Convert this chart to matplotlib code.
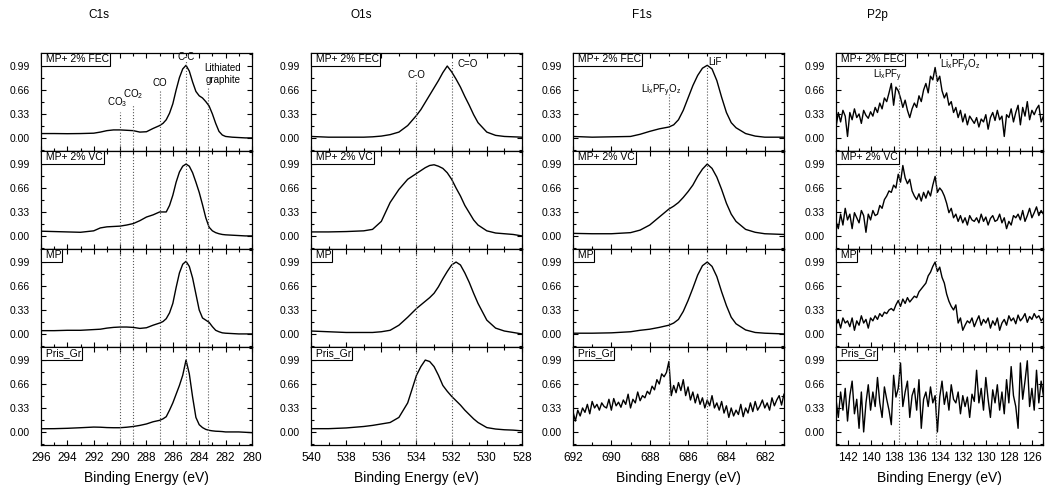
import matplotlib
matplotlib.use('Agg')
import matplotlib.pyplot as plt
from matplotlib.ticker import MultipleLocator
import numpy as np

plt.rcParams['font.family'] = 'Liberation Sans'
plt.rcParams['mathtext.default'] = 'regular'

samples = ['MP+ 2% FEC', 'MP+ 2% VC', 'MP', 'Pris_Gr']
titles = ['C1s', 'O1s', 'F1s', 'P2p']

# ---- C1s (normalised intensity) ----
c1s_E = [296, 295, 294, 293, 292, 291.5, 291, 290.5, 290, 289.5, 289, 288.5, 288, 287.5, 287,
         286.75, 286.5, 286.25, 286, 285.75, 285.5, 285.25, 285, 284.75, 284.5, 284.25, 284,
         283.75, 283.5, 283.25, 283, 282.75, 282.5, 282.25, 282, 281.5, 281, 280.5, 280]
c1s_fec = [0.06, 0.06, 0.058, 0.06, 0.065, 0.08, 0.10, 0.11, 0.11, 0.105, 0.10, 0.08, 0.085, 0.13, 0.17,
           0.20, 0.25, 0.34, 0.47, 0.66, 0.83, 0.95, 1.0, 0.92, 0.77, 0.64, 0.58,
           0.55, 0.50, 0.44, 0.33, 0.20, 0.09, 0.04, 0.02, 0.01, 0.005, 0.0, 0.0]
c1s_vc = [0.065, 0.06, 0.055, 0.05, 0.07, 0.11, 0.125, 0.13, 0.135, 0.15, 0.17, 0.21, 0.26, 0.29, 0.33,
          0.33, 0.33, 0.42, 0.56, 0.74, 0.88, 0.96, 0.99, 0.96, 0.87, 0.74, 0.60,
          0.43, 0.25, 0.12, 0.07, 0.045, 0.03, 0.02, 0.015, 0.01, 0.005, 0.0, 0.0]
c1s_mp = [0.045, 0.045, 0.05, 0.05, 0.06, 0.065, 0.08, 0.09, 0.095, 0.095, 0.09, 0.076, 0.085, 0.12, 0.15,
          0.17, 0.21, 0.29, 0.42, 0.64, 0.84, 0.96, 1.0, 0.93, 0.77, 0.55, 0.33,
          0.22, 0.19, 0.16, 0.10, 0.05, 0.03, 0.015, 0.01, 0.005, 0.0, 0.0, 0.0]
c1s_pris = [0.044, 0.045, 0.05, 0.058, 0.067, 0.065, 0.06, 0.058, 0.058, 0.065, 0.075, 0.09, 0.11, 0.14, 0.16,
            0.18, 0.21, 0.30, 0.40, 0.52, 0.64, 0.78, 0.99, 0.80, 0.48, 0.20, 0.10,
            0.06, 0.035, 0.022, 0.015, 0.01, 0.008, 0.005, 0.0, 0.0, 0.0, -0.005, -0.01]

# ---- O1s ----
o1s_E = [540, 539, 538, 537, 536.5, 536, 535.5, 535, 534.5, 534, 533.75, 533.5, 533.25, 533,
         532.75, 532.5, 532.25, 532, 531.75, 531.5, 531.25, 531, 530.75, 530.5, 530, 529.5,
         529, 528.5, 528]
o1s_fec = [0.02, 0.01, 0.01, 0.01, 0.015, 0.025, 0.045, 0.08, 0.17, 0.31, 0.39, 0.49, 0.59, 0.69,
           0.79, 0.90, 0.99, 0.91, 0.81, 0.70, 0.57, 0.45, 0.32, 0.21, 0.08, 0.035,
           0.02, 0.015, 0.01]
o1s_vc = [0.055, 0.055, 0.06, 0.07, 0.09, 0.20, 0.46, 0.64, 0.78, 0.86, 0.90, 0.94, 0.97, 0.98,
          0.96, 0.93, 0.87, 0.78, 0.66, 0.55, 0.42, 0.32, 0.22, 0.15, 0.07, 0.04,
          0.03, 0.02, 0.0]
o1s_mp = [0.04, 0.03, 0.02, 0.02, 0.02, 0.03, 0.05, 0.12, 0.23, 0.35, 0.40, 0.45, 0.50, 0.56,
          0.65, 0.76, 0.86, 0.95, 0.99, 0.95, 0.84, 0.71, 0.56, 0.42, 0.19, 0.08,
          0.04, 0.02, 0.0]
o1s_pris = [0.045, 0.045, 0.055, 0.075, 0.09, 0.11, 0.13, 0.20, 0.40, 0.78, 0.90, 0.99, 0.97, 0.90,
            0.78, 0.64, 0.56, 0.49, 0.43, 0.37, 0.30, 0.24, 0.18, 0.13, 0.06, 0.04,
            0.03, 0.025, 0.015]

# ---- F1s ----
f1s_E = [692, 691, 690, 689, 688.5, 688, 687.5, 687, 686.75, 686.5, 686.25, 686, 685.75,
         685.5, 685.25, 685, 684.75, 684.5, 684.25, 684, 683.75, 683.5, 683, 682.5, 682, 681]
f1s_fec = [0.02, 0.01, 0.015, 0.02, 0.05, 0.09, 0.125, 0.15, 0.18, 0.25, 0.38, 0.55, 0.72,
           0.86, 0.96, 1.0, 0.95, 0.79, 0.56, 0.35, 0.21, 0.14, 0.06, 0.025, 0.01, 0.01]
f1s_vc = [0.035, 0.03, 0.03, 0.045, 0.08, 0.15, 0.26, 0.37, 0.41, 0.46, 0.53, 0.61, 0.70,
          0.82, 0.92, 0.99, 0.93, 0.81, 0.64, 0.45, 0.30, 0.20, 0.09, 0.05, 0.03, 0.02]
f1s_mp = [0.01, 0.01, 0.015, 0.03, 0.05, 0.065, 0.09, 0.12, 0.15, 0.20, 0.31, 0.46, 0.63,
          0.81, 0.94, 0.99, 0.93, 0.79, 0.58, 0.39, 0.23, 0.14, 0.055, 0.02, 0.01, 0.0]
# noisy one, 0.125 eV steps from 692 down to 681
f1s_pris = [0.28, 0.15, 0.30, 0.22, 0.33, 0.27, 0.38, 0.25, 0.42, 0.33, 0.38, 0.30, 0.40, 0.35,
            0.33, 0.45, 0.30, 0.46, 0.36, 0.41, 0.34, 0.44, 0.38, 0.52, 0.33, 0.45, 0.40, 0.55,
            0.43, 0.50, 0.47, 0.56, 0.52, 0.63, 0.58, 0.72, 0.66, 0.80, 0.76, 0.82, 0.97, 0.50,
            0.64, 0.54, 0.68, 0.57, 0.72, 0.50, 0.62, 0.44, 0.55, 0.40, 0.52, 0.38, 0.47, 0.33,
            0.44, 0.36, 0.50, 0.33, 0.40, 0.30, 0.42, 0.26, 0.36, 0.20, 0.33, 0.22, 0.30, 0.24,
            0.38, 0.21, 0.33, 0.26, 0.40, 0.28, 0.42, 0.30, 0.36, 0.44, 0.33, 0.40, 0.30, 0.47,
            0.36, 0.44, 0.50, 0.37, 0.52]

# ---- P2p, 0.2 eV steps from 143 down to 125 ----
p2p_fec = [0.15, 0.35, 0.22, 0.38, 0.30, 0.02, 0.35, 0.25, 0.40, 0.28, 0.33, 0.20, 0.38, 0.31, 0.27, 0.36,
           0.30, 0.42, 0.35, 0.48, 0.40, 0.55, 0.50, 0.62, 0.75,
           0.45, 0.70, 0.65, 0.55, 0.42, 0.52, 0.38, 0.28, 0.40,
           0.48, 0.42, 0.58, 0.50, 0.66, 0.75, 0.62, 0.85, 0.80,
           0.97, 0.78, 0.85, 0.65, 0.55, 0.62, 0.45, 0.50, 0.35,
           0.42, 0.28, 0.38, 0.22, 0.33, 0.18, 0.30, 0.25, 0.20,
           0.28, 0.15, 0.26, 0.22, 0.32, 0.12, 0.28, 0.35, 0.24,
           0.38, 0.25, 0.30, 0.02, 0.32, 0.28, 0.40, 0.22, 0.35,
           0.45, 0.18, 0.42, 0.30, 0.50, 0.25, 0.38, 0.32, 0.40,
           0.45, 0.22, 0.30]
p2p_vc = [0.20, 0.10, 0.30, 0.15, 0.38, 0.22, 0.30, 0.10, 0.32, 0.25, 0.18, 0.35, 0.28, 0.05, 0.30, 0.22,
          0.35, 0.28, 0.30, 0.42, 0.38, 0.50, 0.55, 0.62, 0.60,
          0.70, 0.66, 0.85, 0.74, 0.97, 0.80, 0.72, 0.78, 0.62,
          0.55, 0.50, 0.58, 0.48, 0.60, 0.52, 0.62, 0.55, 0.70,
          0.82, 0.60, 0.66, 0.62, 0.55, 0.45, 0.32, 0.38, 0.25,
          0.30, 0.20, 0.28, 0.18, 0.25, 0.15, 0.28, 0.22, 0.20,
          0.25, 0.18, 0.30, 0.20, 0.26, 0.15, 0.24, 0.28, 0.20,
          0.22, 0.30, 0.18, 0.25, 0.10, 0.20, 0.15, 0.28, 0.25,
          0.30, 0.22, 0.35, 0.20, 0.28, 0.38, 0.25, 0.32, 0.40,
          0.28, 0.35, 0.30]
p2p_mp = [0.12, 0.20, 0.08, 0.22, 0.15, 0.18, 0.10, 0.22, 0.05, 0.18, 0.12, 0.25, 0.15, 0.20, 0.08, 0.22,
          0.18, 0.25, 0.20, 0.28, 0.24, 0.30, 0.28, 0.33, 0.35,
          0.32, 0.40, 0.46, 0.38, 0.48, 0.42, 0.50, 0.44, 0.48,
          0.52, 0.50, 0.58, 0.62, 0.66, 0.70, 0.80, 0.85, 0.93,
          0.99, 0.86, 0.92, 0.78, 0.70, 0.55, 0.45, 0.38, 0.33,
          0.40, 0.15, 0.22, 0.05, 0.12, 0.18, 0.15, 0.22, 0.10,
          0.18, 0.25, 0.12, 0.20, 0.15, 0.22, 0.08, 0.18, 0.12,
          0.22, 0.05, 0.15, 0.20, 0.12, 0.25, 0.18, 0.22, 0.14,
          0.26, 0.18, 0.22, 0.28, 0.16, 0.24, 0.20, 0.28, 0.22,
          0.25, 0.18, 0.22]
p2p_pris = [0.45, 0.20, 0.55, 0.30, 0.60, 0.15, 0.50, 0.70, 0.25, 0.45, 0.05, 0.55, 0.00, 0.40, 0.65, 0.30,
            0.55, 0.35, 0.75, 0.40, 0.20, 0.62, 0.45, 0.30, 0.10,
            0.78, 0.48, 0.60, 0.95, 0.35, 0.55, 0.70, 0.20, 0.50,
            0.60, 0.30, 0.72, 0.05, 0.45, 0.55, 0.35, 0.62, 0.40,
            0.50, 0.00, 0.48, 0.70, 0.38, 0.55, 0.30, 0.65, 0.45,
            0.40, 0.55, 0.25, 0.50, 0.35, 0.48, 0.20, 0.52, 0.42,
            0.85, 0.40, 0.60, 0.30, 0.75, 0.45, 0.20, 0.58, 0.40,
            0.65, 0.30, 0.55, 0.25, 0.72, 0.40, 0.90, 0.50, 0.35,
            0.05, 0.95, 0.45, 0.70, 0.98, 0.35, 0.60, 0.30, 0.85,
            0.40, 0.70, 0.50]

f1s_pris_E = np.linspace(692, 681, len(f1s_pris))
p2p_E = np.linspace(143, 125, len(p2p_fec))

cols = [
    dict(xlim=(296, 280), xt=np.arange(296, 279, -2),
         E=[c1s_E] * 4, I=[c1s_fec, c1s_vc, c1s_mp, c1s_pris],
         lines=[(290, 0.35), (289, 0.46), (287, 0.66), (285, 1.07), (283.3, 0.70)],
         notes=[('CO$_3$', 290.2, 0.49), ('CO$_2$', 289.0, 0.61), ('CO', 287.0, 0.76),
                ('C-C', 285.0, 1.11), ('Lithiated\ngraphite', 282.2, 0.88)]),
    dict(xlim=(540, 528), xt=np.arange(540, 527, -2),
         E=[o1s_E] * 4, I=[o1s_fec, o1s_vc, o1s_mp, o1s_pris],
         lines=[(534, 0.80), (532, 1.07)],
         notes=[('C-O', 534.0, 0.87), ('C=O', 531.1, 1.02)]),
    dict(xlim=(692, 681), xt=np.arange(692, 681, -2),
         E=[f1s_E, f1s_E, f1s_E, f1s_pris_E], I=[f1s_fec, f1s_vc, f1s_mp, f1s_pris],
         lines=[(687, 0.60), (685, 0.98)],
         notes=[('Li$_x$PF$_y$O$_z$', 687.4, 0.65), ('LiF', 684.6, 1.04)]),
    dict(xlim=(143, 125), xt=np.arange(142, 125, -2),
         E=[p2p_E] * 4, I=[p2p_fec, p2p_vc, p2p_mp, p2p_pris],
         lines=[(137.5, 0.73), (134.3, 0.90)],
         notes=[('Li$_x$PF$_y$', 138.5, 0.85), ('Li$_x$PF$_y$O$_z$', 132.2, 1.0)]),
]

fig = plt.figure(figsize=(10.45, 4.95), dpi=100)

col_left = [0.0392, 0.2976, 0.5483, 0.800]
col_w = [0.2019, 0.2019, 0.2019, 0.1985]
title_x = [0.0943, 0.346, 0.614, 0.840]
top = 0.893
ph = 0.198
ylo, yhi = -0.18, 1.17

for c, col in enumerate(cols):
    for r in range(4):
        ax = fig.add_axes([col_left[c], top - (r + 1) * ph, col_w[c], ph])
        ax.plot(col['E'][r], col['I'][r], color='black', lw=1.0)
        ax.set_xlim(*col['xlim'])
        ax.set_ylim(ylo, yhi)
        ax.set_yticks([0, 0.33, 0.66, 0.99])
        ax.set_yticklabels(['0.00', '0.33', '0.66', '0.99'])
        ax.yaxis.set_minor_locator(MultipleLocator(0.165))
        ax.set_xticks(col['xt'])
        ax.xaxis.set_minor_locator(MultipleLocator(1))
        ax.tick_params(which='both', direction='in', top=True, right=True, width=0.8)
        ax.tick_params(which='major', length=3.5)
        ax.tick_params(which='minor', length=2)
        ax.tick_params(axis='y', labelsize=7.5, pad=8)
        ax.tick_params(axis='x', labelsize=8.5, pad=5)
        if r < 3:
            ax.tick_params(labelbottom=False)
        for s in ax.spines.values():
            s.set_linewidth(0.9)

        # dotted guide lines
        for x0, ytop in col['lines']:
            if r == 0:
                ax.vlines(x0, ylo, ytop, colors='0.35', linestyles=':', lw=0.8)
            else:
                ax.axvline(x0, color='0.35', ls=':', lw=0.8)
        if r == 0:
            for txt, x0, y0 in col['notes']:
                ax.text(x0, y0, txt, ha='center', va='center', fontsize=7)

        ax.text(0.008, 0.985, ' ' + samples[r], transform=ax.transAxes, ha='left', va='top',
                fontsize=7.5, bbox=dict(boxstyle='square,pad=0.12', fc='white', ec='black', lw=0.8))

    fig.text(title_x[c], 0.97, titles[c], ha='center', va='center', fontsize=8.5)
    fig.text(col_left[c] + col_w[c] / 2, 0.034, 'Binding Energy (eV)', ha='center',
             va='center', fontsize=10)

fig.savefig('out.png', dpi=100)
